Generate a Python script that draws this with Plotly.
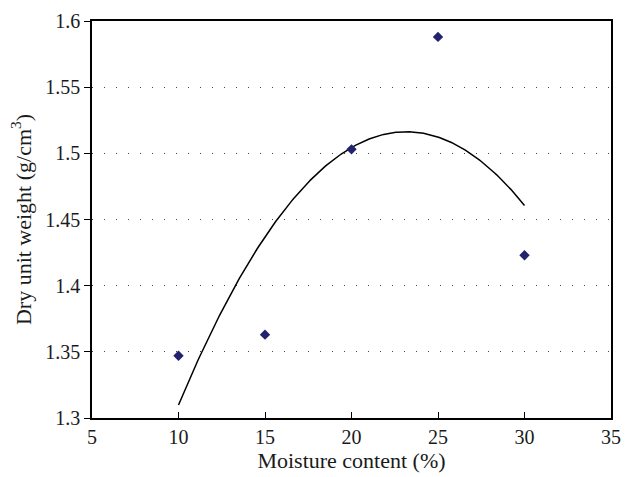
import numpy as np
import plotly.graph_objects as go

# Data
moisture = [10, 15, 20, 25, 30]
dry_unit_weight = [1.347, 1.363, 1.503, 1.588, 1.423]

x_ticks = [5, 10, 15, 20, 25, 30, 35]
y_ticks = [1.3, 1.35, 1.4, 1.45, 1.5, 1.55, 1.6]
y_tick_text = ["1.3", "1.35", "1.4", "1.45", "1.5", "1.55", "1.6"]

# Second-order polynomial trendline of the data
coef = np.polyfit(moisture, dry_unit_weight, 2)
xt = np.linspace(min(moisture), max(moisture), 200)
yt = np.polyval(coef, xt)

FONT = "Liberation Serif"

fig = go.Figure()
fig.add_trace(go.Scatter(x=xt, y=yt, mode="lines",
                         line=dict(color="black", width=1.5), showlegend=False))
fig.add_trace(go.Scatter(x=moisture, y=dry_unit_weight, mode="markers",
                         marker=dict(symbol="diamond", size=8, color="#22226e"),
                         showlegend=False))

fig.update_layout(
    width=631, height=477,
    margin=dict(l=92, r=10, t=18, b=58),
    paper_bgcolor="white", plot_bgcolor="white",
    font=dict(family=FONT, size=20, color="#1a1a1a"),
    xaxis=dict(range=[5, 35], tickvals=x_ticks, ticks="inside", ticklen=6,
               tickcolor="black", tickwidth=1.2,
               showline=True, linecolor="black", linewidth=1.5, mirror=True,
               showgrid=False, zeroline=False,
               title=dict(text="Moisture content (%)", standoff=4,
                          font=dict(family=FONT, size=22))),
    yaxis=dict(range=[1.3, 1.6], tickvals=y_ticks, ticktext=y_tick_text,
               ticks="outside", ticklen=6, tickcolor="black", tickwidth=1.2,
               showline=True, linecolor="black", linewidth=1.5, mirror=True,
               showgrid=True, gridcolor="#444444", gridwidth=1,
               griddash="1px,11px", zeroline=False,
               title=dict(text="Dry unit weight (g/cm<sup>3</sup>)", standoff=8,
                          font=dict(family=FONT, size=22))),
)

fig.write_html("out.html")
